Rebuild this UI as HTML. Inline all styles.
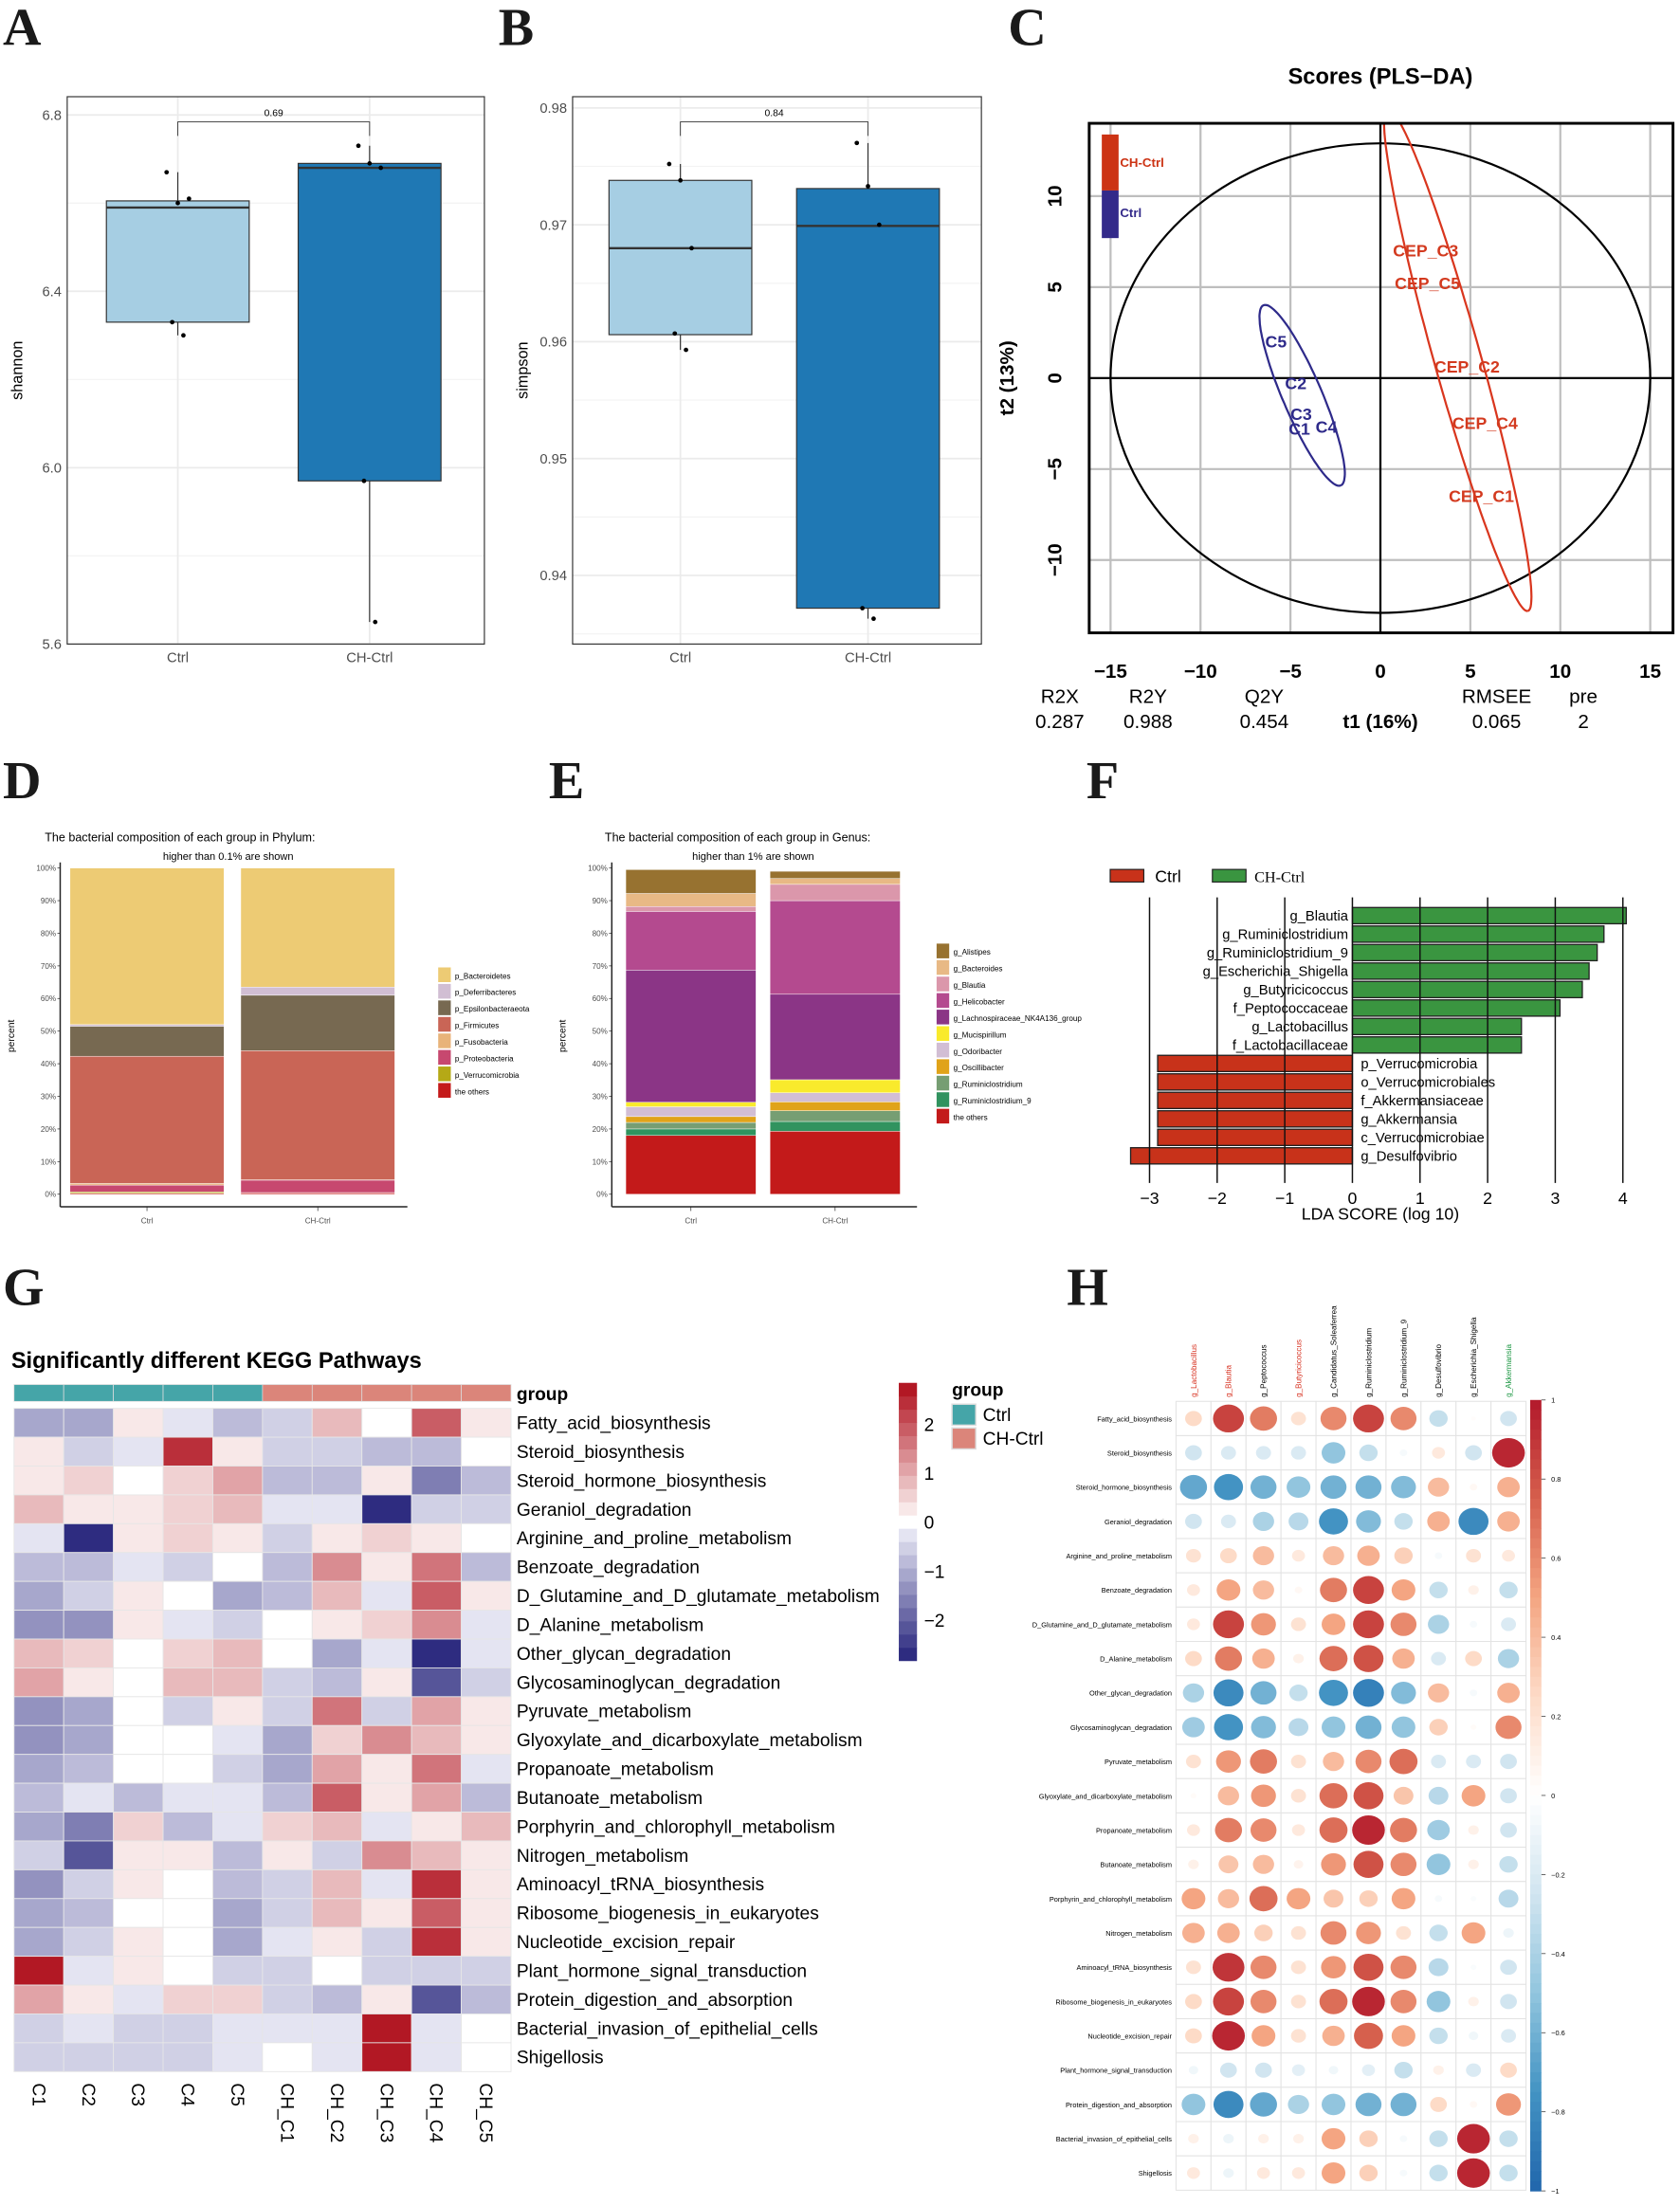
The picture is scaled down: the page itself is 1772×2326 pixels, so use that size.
<!DOCTYPE html>
<html><head><meta charset="utf-8">
<style>
html,body{margin:0;padding:0;background:#fff;}
svg{display:block;font-family:"Liberation Sans",sans-serif;}
.L{font-family:"Liberation Serif",serif;font-weight:bold;font-size:38px;fill:#1a1a1a;}
</style></head>
<body>
<svg id="fig" width="1772" height="2326" viewBox="0 0 1200 1575" xmlns="http://www.w3.org/2000/svg">
<rect x="0" y="0" width="1200" height="1575" fill="#fff"/>
<text class="L" x="2" y="32">A</text>
<text class="L" x="356" y="32">B</text>
<text class="L" x="720" y="32">C</text>
<text class="L" x="2" y="570">D</text>
<text class="L" x="392" y="570">E</text>
<text class="L" x="776" y="570">F</text>
<text class="L" x="2" y="932">G</text>
<text class="L" x="762" y="932">H</text>
<text x="986" y="60" text-anchor="middle" font-weight="bold" font-size="16">Scores (PLS−DA)</text>
<text x="32" y="601" font-size="8.5">The bacterial composition of each group in Phylum:</text>
<text x="163" y="614" text-anchor="middle" font-size="7.5">higher than 0.1% are shown</text>
<text x="432" y="601" font-size="8.5">The bacterial composition of each group in Genus:</text>
<text x="538" y="614" text-anchor="middle" font-size="7.5">higher than 1% are shown</text>
<text x="8" y="977" font-weight="bold" font-size="16">Significantly different KEGG Pathways</text>
</svg>
<script>
const NS='http://www.w3.org/2000/svg';
const svg=document.getElementById('fig');
function mk(tag,attrs,parent){const e=document.createElementNS(NS,tag);for(const k in attrs)e.setAttribute(k,attrs[k]);(parent||svg).appendChild(e);return e;}
function tx(str,x,y,attrs,parent){const e=mk('text',Object.assign({x:x,y:y},attrs||{}),parent);e.textContent=str;return e;}

// ===== Panel A & B data =====
const aGroups=['Ctrl','CH-Ctrl'];
const aStats=[[6.30,6.33,6.59,6.605,6.67],[5.65,5.97,6.68,6.69,6.73]];
const aPoints=[[6.67,6.60,6.61,6.33,6.30],[6.73,6.69,6.68,5.97,5.65]];
const aTicks=[5.6,6.0,6.4,6.8];
const aP='0.69';
const bGroups=['Ctrl','CH-Ctrl'];
const bStats=[[0.9593,0.9606,0.968,0.9738,0.9752],[0.9363,0.9372,0.9699,0.9731,0.977]];
const bPoints=[[0.9752,0.9738,0.968,0.9607,0.9593],[0.977,0.9733,0.970,0.9372,0.9363]];
const bTicks=[0.94,0.95,0.96,0.97,0.98];
const bP='0.84';

function boxPanel(cfg){
  const g=mk('g',{});
  
  
  const y=cfg.y;
  const step=cfg.ticks[1]-cfg.ticks[0];
  for(let i=0;i<cfg.ticks.length;i++){
    const m=cfg.ticks[i]-step/2;
    if(y(m)<cfg.bottom&&y(m)>cfg.top){const gl=mk('line',{x1:cfg.left,x2:cfg.right,y1:y(m),y2:y(m),stroke:'#f3f3f3','stroke-width':0.8},g);
    
    }
    const t=cfg.ticks[i];
    const gm=mk('line',{x1:cfg.left,x2:cfg.right,y1:y(t),y2:y(t),stroke:'#ebebeb','stroke-width':1.2},g);
    
    
    const tl=tx(String(cfg.labels[i]),cfg.left-4,y(t)+3.5,{'text-anchor':'end','font-size':10,fill:'#4d4d4d'},g);
    
    
  }
  const topTick=cfg.ticks[cfg.ticks.length-1]+step/2;
  if(y(topTick)>cfg.top){const gl=mk('line',{x1:cfg.left,x2:cfg.right,y1:y(topTick),y2:y(topTick),stroke:'#f3f3f3','stroke-width':0.8},g);
  
  }
  const cols=['#a6cee3','#1f78b4'];
  for(let k=0;k<cfg.groups.length;k++){
    const cx=cfg.xs[k];
    const vg=mk('line',{x1:cx,x2:cx,y1:cfg.top,y2:cfg.bottom,stroke:'#ebebeb','stroke-width':1.2},g);
    
    
  }
  for(let k=0;k<cfg.groups.length;k++){
    const s=cfg.stats[k],cx=cfg.xs[k],hw=cfg.hw;
    const wh=mk('line',{x1:cx,x2:cx,y1:y(s[0]),y2:y(s[4]),stroke:'#333','stroke-width':0.8},g);
    
    
    const bx=mk('rect',{x:cx-hw,y:y(s[3]),width:2*hw,height:y(s[1])-y(s[3]),fill:cols[k],stroke:'#333','stroke-width':0.8},g);
    
    
    const md=mk('line',{x1:cx-hw,x2:cx+hw,y1:y(s[2]),y2:y(s[2]),stroke:'#333','stroke-width':1.6},g);
    
    
    for(let i=0;i<cfg.points[k].length;i++){
      const pt=mk('circle',{cx:cx+((i*7)%5-2)*4,cy:y(cfg.points[k][i]),r:1.6,fill:'#000'},g);
      
      
    }
    const xl=tx(cfg.groups[k],cx,cfg.bottom+13,{'text-anchor':'middle','font-size':10,fill:'#4d4d4d'},g);
    
    
  }
  const by=cfg.bracketY;
  const br=mk('path',{d:`M${cfg.xs[0]},${by+10}V${by}H${cfg.xs[1]}V${by+10}`,fill:'none',stroke:'#333','stroke-width':0.6},g);
  
  
  const pl=tx(cfg.p,(cfg.xs[0]+cfg.xs[1])/2,by-4,{'text-anchor':'middle','font-size':7},g);
  
  
  const fr=mk('rect',{x:cfg.left,y:cfg.top,width:cfg.right-cfg.left,height:cfg.bottom-cfg.top,fill:'none',stroke:'#333','stroke-width':0.8},g);
  
  
  const yt=tx(cfg.ytitle,0,0,{'text-anchor':'middle','font-size':11,transform:`translate(${cfg.left-32},${(cfg.top+cfg.bottom)/2}) rotate(-90)`},g);
  
  
}
boxPanel({name:'shannon-boxplot',groups:aGroups,stats:aStats,points:aPoints,ticks:aTicks,labels:['5.6','6.0','6.4','6.8'],p:aP,
  y:v=>460-(v-5.6)*315,left:48,right:346,top:69,bottom:460,xs:[127,264],hw:51,bracketY:87,ytitle:'shannon'});
boxPanel({name:'simpson-boxplot',groups:bGroups,stats:bStats,points:bPoints,ticks:bTicks,labels:['0.94','0.95','0.96','0.97','0.98'],p:bP,
  y:v=>77+(0.98-v)*8350,left:409,right:701,top:69,bottom:460,xs:[486,620],hw:51,bracketY:87,ytitle:'simpson'});

// ===== Panel C: PLS-DA =====
const cCtrlLabels=['C5','C2','C3','C1','C4'];
const cCtrlX=[-6.4,-5.3,-5.0,-5.1,-3.6];
const cCtrlY=[2.0,-0.3,-2.0,-2.8,-2.7];
const cChLabels=['CEP_C3','CEP_C5','CEP_C2','CEP_C4','CEP_C1'];
const cChX=[0.7,0.8,3.0,4.0,3.8];
const cChY=[7.0,5.2,0.6,-2.5,-6.5];
const cCtrlEllipse=[-4.35,-0.95,2.15,-4.95,1.0,0.43];
const cChEllipse=[4.3,1.0,3.9,-13.8,1.25,0.35];
const cTicks=[-15,-10,-5,0,5,10,15];
const cYTicks=[-10,-5,0,5,10];
(function(){
  const xs=v=>986+v*12.85, ys=v=>270-v*13;
  const L=778,R=1195,T=88,B=452;
  const g=mk('g',{});
  
  
  const cp=mk('clipPath',{id:'cclip'},g);
  mk('rect',{x:L,y:T,width:R-L,height:B-T},cp);
  for(const t of cTicks){const l=mk('line',{x1:xs(t),x2:xs(t),y1:T,y2:B,stroke:'#bebebe','stroke-width':1.5},g);
    
    
    const lb=tx(t<0?'−'+(-t):String(t),xs(t),484,{'text-anchor':'middle','font-weight':'bold','font-size':14},g);
    
    }
  for(const t of cYTicks){const l=mk('line',{x1:L,x2:R,y1:ys(t),y2:ys(t),stroke:'#bebebe','stroke-width':1.5},g);
    
    
    const lb=tx(t<0?'−'+(-t):String(t),0,0,{'text-anchor':'middle','font-weight':'bold','font-size':14,transform:`translate(${L-20},${ys(t)}) rotate(-90)`},g);
    
    }
  const ax=mk('line',{x1:xs(0),x2:xs(0),y1:T,y2:B,stroke:'#000','stroke-width':1.5},g);
  
  
  const ay=mk('line',{x1:L,x2:R,y1:ys(0),y2:ys(0),stroke:'#000','stroke-width':1.5},g);
  
  
  const big=mk('ellipse',{cx:xs(0),cy:ys(0),rx:15*12.85,ry:12.9*13,fill:'none',stroke:'#000','stroke-width':1.5},g);
  
  
  function ell(p,col,name){let d='';for(let i=0;i<=120;i++){const a=i/120*2*Math.PI;const x=p[0]+p[2]*Math.cos(a)+p[4]*Math.sin(a);const y=p[1]+p[3]*Math.cos(a)+p[5]*Math.sin(a);d+=(i?'L':'M')+xs(x).toFixed(1)+','+ys(y).toFixed(1);}
    const e=mk('path',{d:d,fill:'none',stroke:col,'stroke-width':1.5,'clip-path':'url(#cclip)'},g);
    
    }
  ell(cCtrlEllipse,'#2e2a8a','ctrl-ellipse');
  ell(cChEllipse,'#d9361e','ch-ctrl-ellipse');
  for(let i=0;i<cCtrlLabels.length;i++){const t=tx(cCtrlLabels[i],xs(cCtrlX[i]),ys(cCtrlY[i])+4,{'font-weight':'bold','font-size':12,fill:'#2e2a8a'},g);
    
    }
  for(let i=0;i<cChLabels.length;i++){const t=tx(cChLabels[i],xs(cChX[i]),ys(cChY[i])+4,{'font-weight':'bold','font-size':12,fill:'#d33a1f'},g);
    
    }
  const fr=mk('rect',{x:L,y:T,width:R-L,height:B-T,fill:'none',stroke:'#000','stroke-width':2},g);
  
  
  const l1=mk('rect',{x:787,y:96,width:12,height:40,fill:'#cc3314'},g);
  
  
  const l2=mk('rect',{x:787,y:136,width:12,height:34,fill:'#332a8a'},g);
  
  
  const t1=tx('CH-Ctrl',800,119,{'font-weight':'bold','font-size':9,fill:'#cc3314'},g);
  
  
  const t2=tx('Ctrl',800,155,{'font-weight':'bold','font-size':9,fill:'#332a8a'},g);
  
  
  const yt=tx('t2 (13%)',0,0,{'text-anchor':'middle','font-weight':'bold','font-size':14,transform:'translate(724,270) rotate(-90)'},g);
  
  
  const xt=tx('t1 (16%)',986,520,{'text-anchor':'middle','font-weight':'bold','font-size':14},g);
  
  
  const sNames=['R2X','R2Y','Q2Y','RMSEE','pre'], sVals=['0.287','0.988','0.454','0.065','2'], sX=[757,820,903,1069,1131];
  for(let i=0;i<5;i++){const a=tx(sNames[i],sX[i],502,{'text-anchor':'middle','font-size':14},g);
    
    
    const b=tx(sVals[i],sX[i],520,{'text-anchor':'middle','font-size':14},g);
    
    }
})();

// ===== Panel D & E: stacked bars =====
const dGroups=['Ctrl','CH-Ctrl'];
const dTaxa=['the others','p_Verrucomicrobia','p_Proteobacteria','p_Fusobacteria','p_Firmicutes','p_Epsilonbacteraeota','p_Deferribacteres','p_Bacteroidetes'];
const dCtrl=[0.3,0.4,2.1,0.5,39.0,9.2,0.5,48.0];
const dCH=[0.4,0.1,3.8,0.1,39.6,17.0,2.5,36.5];
const dColors=['#c41a1a','#b5a916','#c7486f','#e8b37a','#c96556','#776951','#d1bed3','#edcb74'];
const eTaxa=['the others','g_Ruminiclostridium_9','g_Ruminiclostridium','g_Oscillibacter','g_Odoribacter','g_Mucispirillum','g_Lachnospiraceae_NK4A136_group','g_Helicobacter','g_Blautia','g_Bacteroides','g_Alistipes'];
const eCtrl=[18.0,2.0,2.0,1.8,3.0,1.4,40.5,18.0,1.5,4.0,7.3];
const eCH=[19.3,3.0,3.3,2.7,2.8,4.0,26.2,28.7,5.0,1.8,2.2];
const eColors=['#c31a1a','#31935f','#769e73','#e0a319','#d2bed4','#f9ea2c','#8b3586','#b44a8f','#db97ab','#e8b985','#977230'];
const pctTicks=[0,10,20,30,40,50,60,70,80,90,100];
function stackPanel(cfg){
  const g=mk('g',{});
  
  
  const y=p=>853-p*2.33;
  for(const t of pctTicks){const tl=tx(t+'%',cfg.axisX-3,y(t)+2,{'text-anchor':'end','font-size':5.5,fill:'#4d4d4d'},g);
    
    
    const tk=mk('line',{x1:cfg.axisX-2,x2:cfg.axisX,y1:y(t),y2:y(t),stroke:'#333','stroke-width':0.5},g);
    
    }
  const series=[cfg.a,cfg.b];
  for(let k=0;k<2;k++){let cum=0;
    for(let i=0;i<series[k].length;i++){const v=series[k][i];
      const r=mk('rect',{x:cfg.bx[k],y:y(cum+v),width:cfg.bw,height:v*2.33,fill:cfg.colors[i],stroke:'#fff','stroke-width':0.3},g);
      
      
      cum+=v;}
    const xl=tx(cfg.groups[k],cfg.bx[k]+cfg.bw/2,874,{'text-anchor':'middle','font-size':5.5,fill:'#4d4d4d'},g);
    
    
    const xt=mk('line',{x1:cfg.bx[k]+cfg.bw/2,x2:cfg.bx[k]+cfg.bw/2,y1:862,y2:865,stroke:'#333','stroke-width':0.5},g);
    
    }
  const ya=mk('line',{x1:cfg.axisX,x2:cfg.axisX,y1:616,y2:862,stroke:'#222','stroke-width':1},g);
  
  
  const xa=mk('line',{x1:cfg.axisX,x2:cfg.axisEnd,y1:862,y2:862,stroke:'#222','stroke-width':1},g);
  
  
  const yt=tx('percent',0,0,{'text-anchor':'middle','font-size':7,transform:`translate(${cfg.axisX-33},740) rotate(-90)`},g);
  
  
  const n=cfg.taxa.length;
  for(let j=0;j<n;j++){const i=n-1-j;const yy=cfg.ly+j*11.8;
    const sw=mk('rect',{x:cfg.lx,y:yy,width:9,height:10.5,fill:cfg.colors[i]},g);
    
    
    const lt=tx(cfg.taxa[i],cfg.lx+12,yy+8,{'font-size':5.5},g);
    
    }
}
stackPanel({name:'phylum-stacked-bar',groups:dGroups,taxa:dTaxa,a:dCtrl,b:dCH,colors:dColors,axisX:43,axisEnd:291,bx:[50,172],bw:110,lx:313,ly:691});
stackPanel({name:'genus-stacked-bar',groups:dGroups,taxa:eTaxa,a:eCtrl,b:eCH,colors:eColors,axisX:437,axisEnd:655,bx:[447,550],bw:93,lx:669,ly:674});

// ===== Panel F: LDA =====
const fTaxa=['g_Blautia','g_Ruminiclostridium','g_Ruminiclostridium_9','g_Escherichia_Shigella','g_Butyricicoccus','f_Peptococcaceae','g_Lactobacillus','f_Lactobacillaceae','p_Verrucomicrobia','o_Verrucomicrobiales','f_Akkermansiaceae','g_Akkermansia','c_Verrucomicrobiae','g_Desulfovibrio'];
const fScores=[4.05,3.72,3.62,3.5,3.4,3.07,2.5,2.5,-2.88,-2.88,-2.88,-2.88,-2.88,-3.28];
const fTicks=[-3,-2,-1,0,1,2,3,4];
(function(){
  const g=mk('g',{});
  
  
  const x=v=>966+v*48.3;
  for(let i=0;i<fTaxa.length;i++){const v=fScores[i];const yc=654+i*13.2;
    const r=mk('rect',{x:Math.min(x(0),x(v)),y:yc-5.8,width:Math.abs(x(v)-x(0)),height:11.6,fill:v>0?'#3a9540':'#c8321a',stroke:'#222','stroke-width':0.9},g);
    
    
    const t=tx(fTaxa[i],v>0?x(0)-3:x(0)+6,yc+3.5,{'text-anchor':v>0?'end':'start','font-size':10},g);
    
    }
  for(const t of fTicks){const l=mk('line',{x1:x(t),x2:x(t),y1:641,y2:845,stroke:'#111','stroke-width':1},g);
    
    
    const lb=tx(t<0?'−'+(-t):String(t),x(t),860,{'text-anchor':'middle','font-size':12},g);
    
    }
  const xt=tx('LDA SCORE (log 10)',986,871,{'text-anchor':'middle','font-size':12},g);
  
  
  const s1=mk('rect',{x:793,y:621,width:24,height:9,fill:'#c8321a',stroke:'#222','stroke-width':0.8},g);
  
  
  const t1=tx('Ctrl',825,630,{'font-size':12},g);
  
  
  const s2=mk('rect',{x:866,y:621,width:24,height:9,fill:'#3a9540',stroke:'#222','stroke-width':0.8},g);
  
  
  const t2=tx('CH-Ctrl',896,630,{'font-size':11,'font-family':'Liberation Serif, serif'},g);
  
  
})();

// ===== Panel G: heatmap =====
const gSamples=['C1','C2','C3','C4','C5','CH_C1','CH_C2','CH_C3','CH_C4','CH_C5'];
const gGroups=['Ctrl','Ctrl','Ctrl','Ctrl','Ctrl','CH-Ctrl','CH-Ctrl','CH-Ctrl','CH-Ctrl','CH-Ctrl'];
const gPathways=['Fatty_acid_biosynthesis','Steroid_biosynthesis','Steroid_hormone_biosynthesis','Geraniol_degradation','Arginine_and_proline_metabolism','Benzoate_degradation','D_Glutamine_and_D_glutamate_metabolism','D_Alanine_metabolism','Other_glycan_degradation','Glycosaminoglycan_degradation','Pyruvate_metabolism','Glyoxylate_and_dicarboxylate_metabolism','Propanoate_metabolism','Butanoate_metabolism','Porphyrin_and_chlorophyll_metabolism','Nitrogen_metabolism','Aminoacyl_tRNA_biosynthesis','Ribosome_biogenesis_in_eukaryotes','Nucleotide_excision_repair','Plant_hormone_signal_transduction','Protein_digestion_and_absorption','Bacterial_invasion_of_epithelial_cells','Shigellosis'];
const gValues=[
[-1,-1,0.2,-0.3,-0.8,-0.5,0.8,0,2,0.2],
[0.4,-0.5,-0.3,2.3,0.4,-0.5,-0.5,-0.8,-0.8,0],
[0.4,0.6,0,0.6,1.1,-0.8,-0.8,0.2,-1.7,-0.8],
[0.9,0.4,0.2,0.6,0.9,-0.3,-0.3,-2.7,-0.5,-0.5],
[-0.3,-2.7,0.4,0.6,0.2,-0.5,0.4,0.6,0.4,0],
[-0.8,-0.8,-0.3,-0.5,0,-0.8,1.4,0.2,1.7,-0.8],
[-1,-0.5,0.2,0,-1,-0.8,0.7,-0.3,2,0.2],
[-1.4,-1.4,0.4,-0.3,-0.5,0,0.4,0.6,1.4,-0.3],
[0.8,0.6,0,0.6,0.9,0,-1,-0.3,-2.7,-0.3],
[1.1,0.2,0,0.9,0.9,-0.5,-0.8,0.2,-2.2,-0.5],
[-1.4,-1.1,0,-0.5,0.2,-0.5,1.7,-0.5,1.1,0.2],
[-1.4,-1.1,0,0,-0.3,-1.1,0.6,1.4,0.9,0.2],
[-1.1,-0.8,0,0,-0.5,-1.1,1.1,0.2,1.7,-0.3],
[-0.8,-0.3,-0.8,-0.3,-0.3,-0.8,2,0.2,1.1,-0.8],
[-1,-1.7,0.6,-0.8,-0.3,0.6,0.9,-0.3,0.2,0.9],
[-0.5,-2.2,0.2,0.2,-0.8,0.2,-0.5,1.4,0.9,0.4],
[-1.4,-0.5,0.2,0,-0.8,-0.5,0.7,-0.3,2.3,0.2],
[-1.1,-0.8,0,0,-1,-0.5,0.7,0.4,1.8,0.2],
[-1,-0.5,0.2,0,-1,-0.3,0.4,-0.5,2.3,0.2],
[2.7,-0.3,0.4,0,-0.5,-0.5,0,-0.5,-0.5,-0.5],
[1.1,0.4,-0.3,0.6,0.6,-0.5,-0.8,0.2,-2.2,-0.8],
[-0.5,-0.3,-0.5,-0.5,-0.3,-0.3,-0.3,2.7,-0.3,0],
[-0.5,-0.5,-0.5,-0.5,-0.3,0,-0.3,2.7,-0.3,0]];
const gLegendTicks=[2,1,0,-1,-2];
function lerp(a,b,t){return a.map((v,i)=>Math.round(v+(b[i]-v)*t));}
function heatCol(v){const step=0.27;let b=Math.round(v/step);if(b===0)return 'rgb(255,255,255)';
  const t=Math.min(Math.abs(b),10);const c=b>0?lerp([248,232,232],[178,24,36],(t-1)/9):lerp([228,228,242],[46,44,128],(t-1)/9);return `rgb(${c[0]},${c[1]},${c[2]})`;}
(function(){
  const g=mk('g',{});
  
  
  const X0=10,Y0=1006,CW=35.5,RH=20.6;
  for(let j=0;j<gSamples.length;j++){const r=mk('rect',{x:X0+j*CW,y:989,width:CW,height:12,fill:gGroups[j]==='Ctrl'?'#45a5a8':'#db857a',stroke:'#ddd','stroke-width':0.5},g);
    
    
    const t=tx(gSamples[j],0,0,{'font-size':13,transform:`translate(${X0+j*CW+CW/2-4.5},1488) rotate(90)`},g);
    
    }
  const gl=tx('group',369,1000,{'font-weight':'bold','font-size':13},g);
  
  
  for(let i=0;i<gPathways.length;i++){
    for(let j=0;j<gSamples.length;j++){const r=mk('rect',{x:X0+j*CW,y:Y0+i*RH,width:CW,height:RH,fill:heatCol(gValues[i][j]),stroke:'#e6e6e6','stroke-width':0.6},g);
      
      }
    const t=tx(gPathways[i],369,Y0+i*RH+RH/2+4.5,{'font-size':13},g);
    
    }
  const y0=1087,u=35;
  for(let b=-10;b<=10;b++){const v=b*0.27;const r=mk('rect',{x:642,y:y0-(v+0.135)*u,width:13,height:0.27*u+0.3,fill:heatCol(v)},g);
    
    }
  for(const t of gLegendTicks){const l=tx(t<0?'−'+(-t):String(t),660,y0-t*u+5,{'font-size':13},g);
    
    }
  const lt=tx('group',680,997,{'font-weight':'bold','font-size':13},g);
  
  
  const s1=mk('rect',{x:680,y:1003,width:17,height:15,fill:'#45a5a8',stroke:'#ddd'},g);
  
  
  const t1=tx('Ctrl',702,1015,{'font-size':13},g);
  
  
  const s2=mk('rect',{x:680,y:1020,width:17,height:15,fill:'#db857a',stroke:'#ddd'},g);
  
  
  const t2=tx('CH-Ctrl',702,1032,{'font-size':13},g);
  
  
})();

// ===== Panel H: correlation =====
const hGenera=['g_Lactobacillus','g_Blautia','g_Peptococcus','g_Butyricicoccus','g_Candidatus_Soleaferrea','g_Ruminiclostridium','g_Ruminiclostridium_9','g_Desulfovibrio','g_Escherichia_Shigella','g_Akkermansia'];
const hGenusColor=['#d7301f','#d7301f','#000','#d7301f','#000','#000','#000','#000','#000','#1a9641'];
const hPathways=gPathways;
const hValues=[
[.25,.85,.65,.2,.6,.85,.6,-.3,.02,-.25],
[-.25,-.2,-.2,-.2,-.5,-.3,-.05,.15,-.25,.95],
[-.65,-.75,-.6,-.5,-.6,-.6,-.55,.4,.05,.45],
[-.25,-.2,-.4,-.35,-.75,-.55,-.3,.45,-.8,.45],
[.2,.25,.4,.15,.4,.45,.3,-.05,.2,.15],
[.15,.5,.4,.05,.65,.85,.5,-.3,.1,-.3],
[.15,.85,.55,.2,.5,.85,.6,-.4,-.05,-.2],
[.25,.65,.45,.1,.7,.8,.45,-.2,.25,-.4],
[-.4,-.8,-.6,-.3,-.75,-.85,-.55,.4,-.05,.45],
[-.45,-.75,-.55,-.35,-.5,-.6,-.5,.3,.03,.6],
[.2,.55,.65,.2,.4,.6,.7,-.2,-.2,-.25],
[.03,.4,.55,.2,.7,.8,.35,-.35,.5,-.25],
[.15,.65,.6,.15,.7,.95,.65,-.45,.1,-.25],
[.1,.35,.4,.08,.55,.8,.6,-.5,.1,-.3],
[.5,.4,.7,.5,.35,.3,.5,-.05,-.03,-.35],
[.45,.45,.3,.2,.6,.55,.2,-.3,.5,-.1],
[.2,.9,.6,.2,.55,.8,.6,-.35,-.03,-.25],
[.25,.85,.6,.2,.7,.95,.6,-.5,.1,-.25],
[.25,.95,.5,.2,.45,.75,.5,-.3,-.08,-.2],
[-.08,-.25,-.25,-.15,-.08,-.15,-.3,.1,-.2,.25],
[-.5,-.8,-.65,-.4,-.5,-.6,-.6,.25,.05,.55],
[.1,-.1,.1,.1,.5,.3,-.05,-.3,.95,-.3],
[.15,-.1,.15,.15,.5,.3,-.05,-.3,.95,-.3]];
const hLegendTicks=[1,0.8,0.6,0.4,0.2,0,-0.2,-0.4,-0.6,-0.8,-1];
const rdbu=[[33,102,172],[67,147,195],[146,197,222],[209,229,240],[255,255,255],[253,219,199],[244,165,130],[214,96,77],[178,24,43]];
function corrCol(r){const p=(r+1)/2*8;const i=Math.min(Math.floor(p),7);const c=lerp(rdbu[i],rdbu[i+1],p-i);return `rgb(${c[0]},${c[1]},${c[2]})`;}
(function(){
  const g=mk('g',{});
  
  
  const X0=840,Y0=1001,CW=25,RH=24.5;
  for(let i=0;i<hPathways.length;i++){
    for(let j=0;j<hGenera.length;j++){const c=mk('rect',{x:X0+j*CW,y:Y0+i*RH,width:CW,height:RH,fill:'#fff',stroke:'#e3e3e3','stroke-width':0.7},g);
      
      }}
  for(let i=0;i<hPathways.length;i++){
    for(let j=0;j<hGenera.length;j++){const r=hValues[i][j];const s=Math.sqrt(Math.abs(r));
      const e=mk('ellipse',{cx:X0+j*CW+CW/2,cy:Y0+i*RH+RH/2,rx:12*s,ry:10.8*s,fill:corrCol(r)},g);
      
      }
    const t=tx(hPathways[i],837,Y0+i*RH+RH/2+2,{'text-anchor':'end','font-size':5},g);
    
    }
  for(let j=0;j<hGenera.length;j++){const t=tx(hGenera[j],0,0,{'font-size':5.5,fill:hGenusColor[j],transform:`translate(${X0+j*CW+CW/2+2},998) rotate(-90)`},g);
    
    }
  const cb=mk('g',{},g);
  
  
  const top=1000,bot=1565,n=80;
  for(let k=0;k<n;k++){const r=1-2*(k+0.5)/n;const b=mk('rect',{x:1093,y:top+k*(bot-top)/n,width:8,height:(bot-top)/n+0.4,fill:corrCol(r)},cb);
    
    }
  for(const t of hLegendTicks){const y=top+(1-t)/2*(bot-top);
    const tk=mk('line',{x1:1101,x2:1104,y1:y,y2:y,stroke:'#333','stroke-width':0.5},cb);
    
    
    const l=tx(t<0?'−'+(-t):String(t),1108,y+2,{'font-size':5},cb);
    
    }
})();
</script>
</body></html>
